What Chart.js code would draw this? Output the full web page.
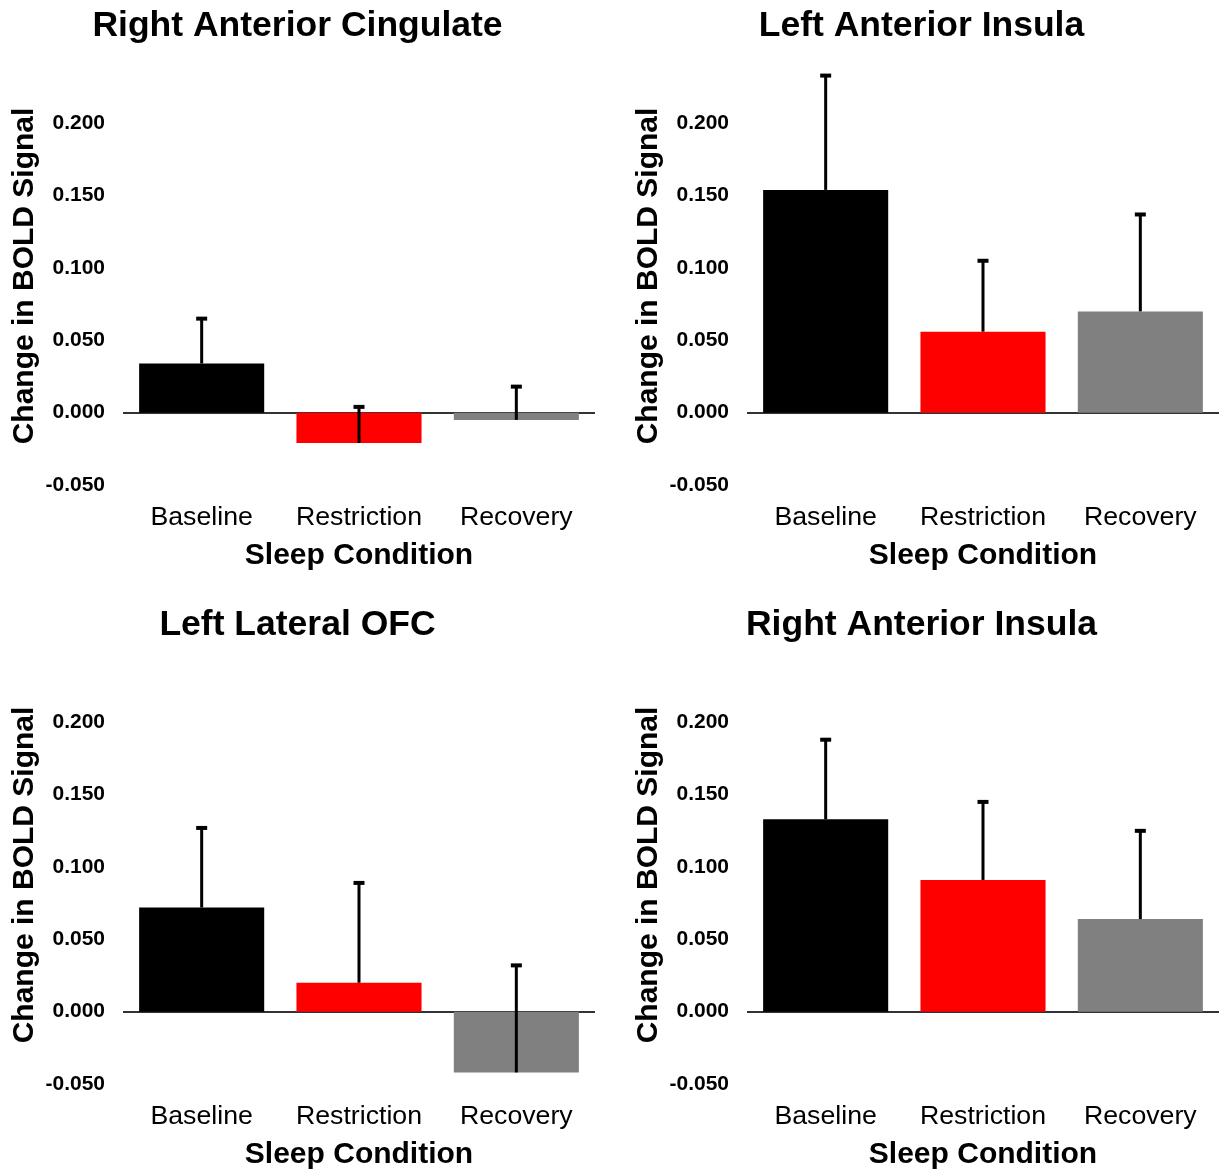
<!DOCTYPE html>
<html>
<head>
<meta charset="utf-8">
<title>BOLD signal by sleep condition</title>
<script src="https://cdn.jsdelivr.net/npm/chart.js@4.4.0/dist/chart.umd.min.js"></script>
<style>
  body { margin: 0; background: #fff; width: 1225px; height: 1171px; position: relative; overflow: hidden; }
  canvas { position: absolute; }
</style>
</head>
<body>
<canvas id="rac" width="601" height="572" style="left:0;top:0"></canvas>
<canvas id="lai" width="601" height="572" style="left:624px;top:0"></canvas>
<canvas id="lofc" width="601" height="572" style="left:0;top:599px"></canvas>
<canvas id="rai" width="601" height="572" style="left:624px;top:599px"></canvas>
<script>
// sleep conditions and bar colours
const categories = ['Baseline', 'Restriction', 'Recovery'];
const barColors = ['#000000', '#ff0000', '#808080'];

// y axis range shared by every panel
const yMin = -0.05;
const yMax = 0.25;
const yStep = 0.05;

// mean change in BOLD signal and its error (upper bar only)
const cingulateMeans = [0.034, -0.021, -0.005];
const cingulateErrors = [0.031, 0.025, 0.023];
const leftInsulaMeans = [0.154, 0.056, 0.070];
const leftInsulaErrors = [0.079, 0.049, 0.067];
const ofcMeans = [0.072, 0.020, -0.042];
const ofcErrors = [0.055, 0.069, 0.074];
const rightInsulaMeans = [0.133, 0.091, 0.064];
const rightInsulaErrors = [0.055, 0.054, 0.061];

const FONT = "'Liberation Sans', Arial, sans-serif";

// draws a T-shaped error bar above each bar value
const errorBars = {
    id: 'errorBars',
    afterDatasetsDraw(chart, args, opts) {
        const ctx = chart.ctx;
        const yScale = chart.scales.y;
        const meta = chart.getDatasetMeta(0);
        const values = chart.data.datasets[0].data;
        ctx.save();
        ctx.strokeStyle = '#000';
        meta.data.forEach((bar, i) => {
            const yVal = yScale.getPixelForValue(values[i]);
            const yTop = yScale.getPixelForValue(values[i] + opts.errors[i]);
            ctx.lineWidth = 3;
            ctx.beginPath();
            ctx.moveTo(bar.x, yVal);
            ctx.lineTo(bar.x, yTop);
            ctx.stroke();
            ctx.lineWidth = 4;
            ctx.beginPath();
            ctx.moveTo(bar.x - 5.5, yTop);
            ctx.lineTo(bar.x + 5.5, yTop);
            ctx.stroke();
        });
        ctx.restore();
    }
};

// rotated y axis title, drawn a little below the middle of the plot
const yTitle = {
    id: 'yTitle',
    afterDraw(chart, args, opts) {
        const ctx = chart.ctx;
        const area = chart.chartArea;
        ctx.save();
        ctx.translate(25, (area.top + area.bottom) / 2 + 8);
        ctx.rotate(-Math.PI / 2);
        ctx.font = 'bold 30px ' + FONT;
        ctx.fillStyle = '#000';
        ctx.textAlign = 'center';
        ctx.textBaseline = 'middle';
        ctx.fillText(opts.text, 0, 0);
        ctx.restore();
    }
};

function tickLabel(v) {
    if (Math.abs(v - yMax) < 1e-9) return '';
    if (Math.abs(v) < 1e-9) return '0.000';
    return Number(v).toFixed(3);
}

function makePanel(id, title, means, errors) {
    const ctx = document.getElementById(id).getContext('2d');
    return new Chart(ctx, {
        type: 'bar',
        data: {
            labels: categories,
            datasets: [{
                data: means,
                backgroundColor: barColors,
                borderWidth: 0,
                barPercentage: 0.795,
                categoryPercentage: 1.0
            }]
        },
        options: {
            responsive: false,
            animation: false,
            layout: { padding: { left: 0, right: 6, top: 0, bottom: 0 } },
            plugins: {
                legend: { display: false },
                tooltip: { enabled: false },
                title: {
                    display: true,
                    text: title,
                    color: '#000',
                    font: { family: FONT, size: 35.5, weight: 'bold' },
                    padding: { top: 5, bottom: 3.4 }
                },
                errorBars: { errors: errors },
                yTitle: { text: 'Change in BOLD Signal' }
            },
            scales: {
                x: {
                    grid: { display: false },
                    border: { display: false },
                    ticks: {
                        color: '#000',
                        padding: 9,
                        font: { family: FONT, size: 26.7 }
                    },
                    title: {
                        display: true,
                        text: 'Sleep Condition',
                        color: '#000',
                        font: { family: FONT, size: 30, weight: 'bold', lineHeight: 1.07 },
                        padding: { top: 0, bottom: 0 }
                    },
                    afterFit(scale) { scale.height = 87; }
                },
                y: {
                    min: yMin,
                    max: yMax,
                    border: { display: false },
                    grid: {
                        drawTicks: false,
                        lineWidth: 2,
                        color: (c) => (c.tick && Math.abs(c.tick.value) < 1e-9) ? '#333333' : 'rgba(0,0,0,0)'
                    },
                    ticks: {
                        stepSize: yStep,
                        color: '#000',
                        padding: 18,
                        font: { family: FONT, size: 21, weight: 'bold' },
                        callback: tickLabel
                    },
                    afterFit(scale) { scale.width = 123; }
                }
            }
        },
        plugins: [errorBars, yTitle]
    });
}

makePanel('rac', 'Right Anterior Cingulate', cingulateMeans, cingulateErrors);
makePanel('lai', 'Left Anterior Insula', leftInsulaMeans, leftInsulaErrors);
makePanel('lofc', 'Left Lateral OFC', ofcMeans, ofcErrors);
makePanel('rai', 'Right Anterior Insula', rightInsulaMeans, rightInsulaErrors);
</script>
</body>
</html>
